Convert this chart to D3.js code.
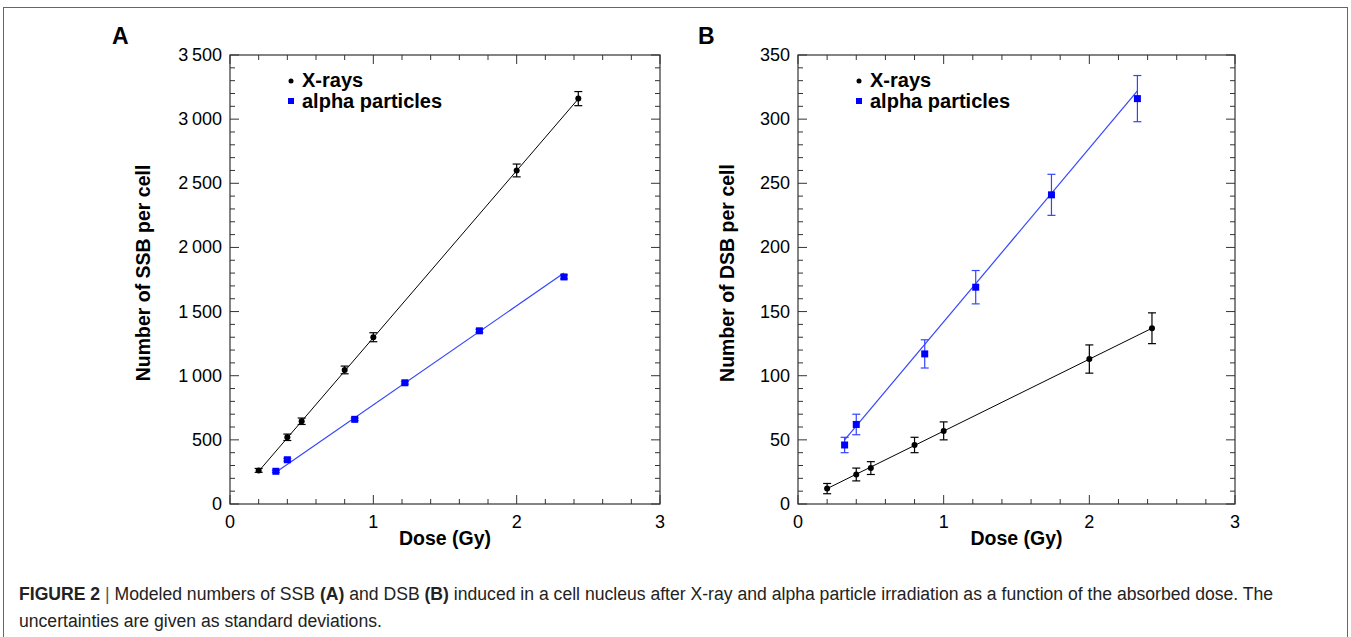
<!DOCTYPE html>
<html lang="en">
<head>
<meta charset="utf-8">
<script src="https://d3js.org/d3.v7.min.js"></script>
<style>
  body { margin: 0; background: #fff; }
  svg { display: block; font-family: "Liberation Sans", Arial, Helvetica, sans-serif; }
</style>
</head>
<body>
<svg id="fig" width="1351" height="637"></svg>
<script>

// Dose values (Gy)
const xrayDose = [0.2, 0.4, 0.5, 0.8, 1.0, 2.0, 2.43];
const alphaDose = [0.32, 0.4, 0.87, 1.22, 1.74, 2.33];

// Panel A: SSB per cell
const ssbXray = [262, 520, 645, 1045, 1300, 2600, 3160];
const ssbXrayErr = [15, 25, 25, 30, 35, 50, 55];
const ssbAlpha = [255, 345, 660, 945, 1350, 1770];
const ssbAlphaErr = [8, 10, 10, 10, 12, 15];
const ssbXrayFit = [[0.2, 255], [2.43, 3158]];
const ssbAlphaFit = [[0.32, 248], [2.33, 1800]];

// Panel B: DSB per cell
const dsbXray = [12, 23, 28, 46, 57, 113, 137];
const dsbXrayErr = [4, 5, 5, 6, 7, 11, 12];
const dsbAlpha = [46, 62, 117, 169, 241, 316];
const dsbAlphaErr = [6, 8, 11, 13, 16, 18];
const dsbXrayFit = [[0.2, 12], [2.43, 137]];
const dsbAlphaFit = [[0.32, 50], [2.33, 322]];

const legendLabels = ["X-rays", "alpha particles"];

const svg = d3.select("#fig");
const black = "#000", blue = "#0000ff", blueLine = "#3344ff";

// outer frame
svg.append("rect")
  .attr("x", 3.5).attr("y", 7.5)
  .attr("width", 1344).attr("height", 660)
  .attr("fill", "none").attr("stroke", "#666").attr("stroke-width", 1);

function fmtThousands(v) {
  return d3.format(",")(v).replace(/,/g, "\u2009");
}

function panel(opts) {
  const x = d3.scaleLinear().domain([0, 3]).range([opts.left, opts.right]);
  const y = d3.scaleLinear().domain([0, opts.ymax]).range([opts.bottom, opts.top]);
  const g = svg.append("g");

  // panel letter
  g.append("text").attr("x", opts.letterX).attr("y", 44)
    .attr("font-size", 23).attr("font-weight", "bold").text(opts.letter);

  // box
  g.append("rect")
    .attr("x", opts.left).attr("y", opts.top)
    .attr("width", opts.right - opts.left).attr("height", opts.bottom - opts.top)
    .attr("fill", "none").attr("stroke", "#333").attr("stroke-width", 1.2);

  const xMajor = [0, 1, 2, 3];
  const xMinor = d3.range(0, 3.001, 0.2).filter(v => Math.abs(v - Math.round(v)) > 1e-6);
  const yMajor = d3.range(0, opts.ymax + 1, opts.ymajor);
  const yMinor = d3.range(0, opts.ymax + 1, opts.yminor).filter(v => v % opts.ymajor !== 0);

  const tick = g.append("g").attr("stroke", "#333").attr("stroke-width", 1);
  xMajor.concat(xMinor).forEach(v => {
    const len = xMajor.includes(v) ? 9 : 5;
    tick.append("line").attr("x1", x(v)).attr("x2", x(v))
      .attr("y1", opts.bottom).attr("y2", opts.bottom - len);
    tick.append("line").attr("x1", x(v)).attr("x2", x(v))
      .attr("y1", opts.top).attr("y2", opts.top + len);
  });
  yMajor.concat(yMinor).forEach(v => {
    const len = yMajor.includes(v) ? 9 : 5;
    tick.append("line").attr("y1", y(v)).attr("y2", y(v))
      .attr("x1", opts.left).attr("x2", opts.left + len);
    tick.append("line").attr("y1", y(v)).attr("y2", y(v))
      .attr("x1", opts.right).attr("x2", opts.right - len);
  });

  // tick labels
  g.selectAll(".xl").data(xMajor).join("text")
    .attr("x", d => x(d)).attr("y", opts.bottom + 24)
    .attr("text-anchor", "middle").attr("font-size", 18).text(d => d);
  g.selectAll(".yl").data(yMajor).join("text")
    .attr("x", opts.left - 8).attr("y", d => y(d) + 6)
    .attr("text-anchor", "end").attr("font-size", 18).text(d => fmtThousands(d));

  // axis titles
  g.append("text").attr("x", (opts.left + opts.right) / 2).attr("y", 545)
    .attr("text-anchor", "middle").attr("font-size", 19.5).attr("font-weight", "bold")
    .text("Dose (Gy)");
  g.append("text")
    .attr("transform", `translate(${opts.ytitleX},273) rotate(-90)`)
    .attr("text-anchor", "middle").attr("font-size", 19.5).attr("font-weight", "bold")
    .text(opts.ytitle);

  // fit lines
  const line = d3.line().x(d => x(d[0])).y(d => y(d[1]));
  g.append("path").attr("d", line(opts.xrayFit)).attr("fill", "none")
    .attr("stroke", black).attr("stroke-width", 1);
  g.append("path").attr("d", line(opts.alphaFit)).attr("fill", "none")
    .attr("stroke", blueLine).attr("stroke-width", 1.2);

  // error bars
  function errBars(dose, vals, errs, color) {
    const eg = g.append("g").attr("stroke", color).attr("stroke-width", 1.2);
    dose.forEach((d, i) => {
      const cx = x(d), lo = y(vals[i] - errs[i]), hi = y(vals[i] + errs[i]);
      eg.append("line").attr("x1", cx).attr("x2", cx).attr("y1", lo).attr("y2", hi);
      eg.append("line").attr("x1", cx - 4).attr("x2", cx + 4).attr("y1", lo).attr("y2", lo);
      eg.append("line").attr("x1", cx - 4).attr("x2", cx + 4).attr("y1", hi).attr("y2", hi);
    });
  }
  errBars(opts.dose1, opts.xray, opts.xrayErr, black);
  errBars(opts.dose2, opts.alpha, opts.alphaErr, "#3344ff");

  // markers
  g.selectAll(".xp").data(opts.dose1).join("circle")
    .attr("cx", d => x(d)).attr("cy", (d, i) => y(opts.xray[i]))
    .attr("r", 3).attr("fill", black);
  g.selectAll(".ap").data(opts.dose2).join("rect")
    .attr("x", d => x(d) - 3.5).attr("y", (d, i) => y(opts.alpha[i]) - 3.5)
    .attr("width", 7).attr("height", 7).attr("fill", blue);

  // legend
  const lx = opts.left + 61;
  g.append("circle").attr("cx", lx).attr("cy", 81).attr("r", 2.5).attr("fill", black);
  g.append("rect").attr("x", lx - 3).attr("y", 98).attr("width", 6).attr("height", 6).attr("fill", blue);
  legendLabels.forEach((t, i) => {
    g.append("text").attr("x", lx + 11).attr("y", 87 + i * 21)
      .attr("font-size", 20).attr("font-weight", "bold").text(t);
  });
}

panel({
  letter: "A", letterX: 112,
  left: 230, right: 660, top: 55, bottom: 504,
  ymax: 3500, ymajor: 500, yminor: 100,
  ytitle: "Number of SSB per cell", ytitleX: 150,
  dose1: xrayDose, xray: ssbXray, xrayErr: ssbXrayErr,
  dose2: alphaDose, alpha: ssbAlpha, alphaErr: ssbAlphaErr,
  xrayFit: ssbXrayFit, alphaFit: ssbAlphaFit
});

panel({
  letter: "B", letterX: 698,
  left: 798, right: 1235, top: 55, bottom: 504,
  ymax: 350, ymajor: 50, yminor: 10,
  ytitle: "Number of DSB per cell", ytitleX: 734,
  dose1: xrayDose, xray: dsbXray, xrayErr: dsbXrayErr,
  dose2: alphaDose, alpha: dsbAlpha, alphaErr: dsbAlphaErr,
  xrayFit: dsbXrayFit, alphaFit: dsbAlphaFit
});

// caption
const cap = svg.append("g").attr("font-size", 17.6).attr("fill", "#222");
const line1 = cap.append("text").attr("x", 19).attr("y", 600);
line1.append("tspan").attr("font-weight", "bold").text("FIGURE 2 ");
line1.append("tspan").attr("fill", "#555").text("|");
line1.append("tspan").text(" Modeled numbers of SSB ");
line1.append("tspan").attr("font-weight", "bold").text("(A)");
line1.append("tspan").text(" and DSB ");
line1.append("tspan").attr("font-weight", "bold").text("(B)");
line1.append("tspan").text(" induced in a cell nucleus after X-ray and alpha particle irradiation as a function of the absorbed dose. The");
cap.append("text").attr("x", 19).attr("y", 627)
  .text("uncertainties are given as standard deviations.");

</script>
</body>
</html>
